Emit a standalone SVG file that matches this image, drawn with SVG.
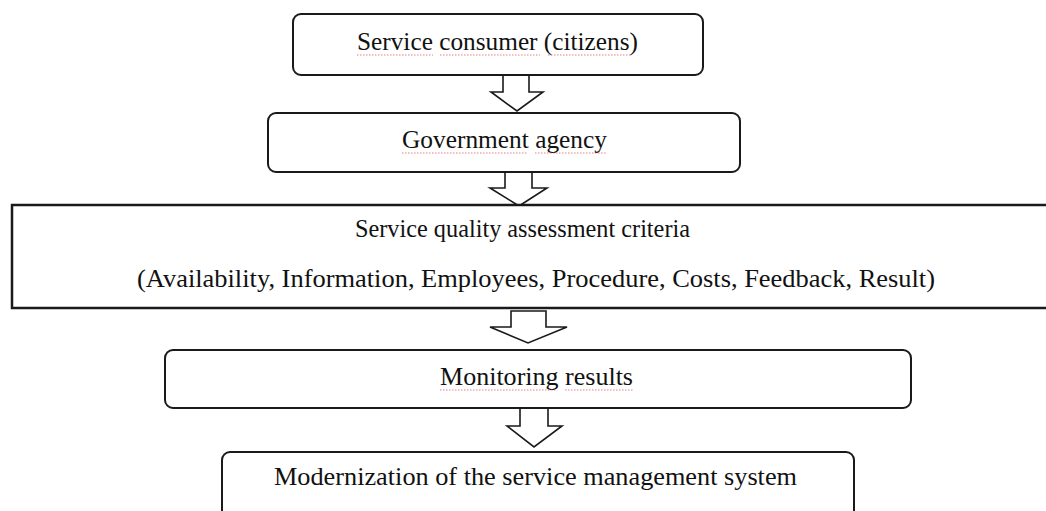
<svg xmlns="http://www.w3.org/2000/svg" width="1046" height="511" viewBox="0 0 1046 511">
<style>
.box{fill:#fff;stroke:#1a1a1a;stroke-width:2}
.arr{fill:#fff;stroke:#1a1a1a;stroke-width:1.6;stroke-linejoin:miter}
.t{font-family:"Liberation Serif","Times New Roman",serif;font-size:26px;fill:#111}
.sp{fill:none;stroke:#e06060;stroke-width:1;stroke-dasharray:1.5 1.5;opacity:0.8}
</style>
<rect width="1046" height="511" fill="#fff"/>
<g id="connectors">
<polygon class="arr" points="503,75 529,75 529,92 543,92 517,111 491,92 503,92"/>
<polygon class="arr" points="505,172 532,172 532,188 547,188 519,206 490,188 505,188"/>
<polygon class="arr" points="511,311 546,311 546,327 567,327 528,343 490,327 511,327"/>
<polygon class="arr" points="520,408 548,408 548,426 562,426 534,447 507,426 520,426"/>
</g>
<g id="node-consumer">
<rect class="box" x="293" y="14" width="410" height="61" rx="8"/>
<text class="t" x="357" y="50" textLength="281" lengthAdjust="spacingAndGlyphs">Service consumer (citizens)</text>
<path class="sp" d="M357,55H433M440,55H540M548,55H632"/>
</g>
<g id="node-agency">
<rect class="box" x="268" y="113" width="472" height="59" rx="8"/>
<text class="t" x="402" y="148" textLength="205" lengthAdjust="spacingAndGlyphs">Government agency</text>
<path class="sp" d="M402,153H528M535,153H607"/>
</g>
<g id="node-criteria">
<path class="box" d="M1050,205H12V308H1050" style="stroke-width:2.5"/>
<text class="t" x="355" y="237" textLength="335" lengthAdjust="spacingAndGlyphs">Service quality assessment criteria</text>
<text class="t" x="137" y="287" textLength="798" lengthAdjust="spacingAndGlyphs">(Availability, Information, Employees, Procedure, Costs, Feedback, Result)</text>
</g>
<g id="node-monitoring">
<rect class="box" x="165" y="350" width="746" height="58" rx="8"/>
<text class="t" x="440" y="385" textLength="193" lengthAdjust="spacingAndGlyphs">Monitoring results</text>
<path class="sp" d="M440,390H555M565,390H633"/>
</g>
<g id="node-modernization">
<rect class="box" x="222" y="452" width="632" height="80" rx="8"/>
<text class="t" x="274" y="485" textLength="523" lengthAdjust="spacingAndGlyphs">Modernization of the service management system</text>
</g>
</svg>
